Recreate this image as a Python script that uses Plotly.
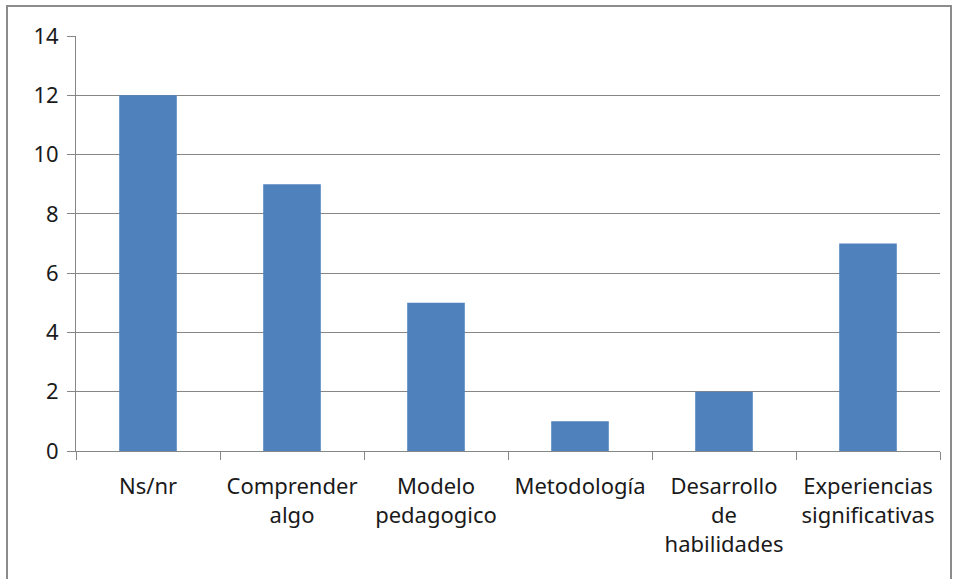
import plotly.graph_objects as go

categories = ["Ns/nr", "Comprender<br>algo", "Modelo<br>pedagogico", "Metodología",
              "Desarrollo<br>de<br>habilidades", "Experiencias<br>significativas"]
values = [12, 9, 5, 1, 2, 7]
y_ticks = [0, 2, 4, 6, 8, 10, 12, 14]

W, H = 955, 579
L, R, T, B = 76, 15, 36, 128
pw, ph = W - L - R, H - T - B

def px2paper_x(px):
    return (px - L) / pw

def px2paper_y(py):
    return (H - B - py) / ph

fig = go.Figure(go.Bar(x=categories, y=values, marker_color="#4F81BD",
                       marker_line_width=0, width=0.4))

fig.update_layout(
    width=W, height=H,
    margin=dict(l=L, r=R, t=T, b=B),
    plot_bgcolor="white", paper_bgcolor="white",
    font=dict(family="Noto Sans", size=20, color="#1a1a1a"),
    showlegend=False,
    bargap=0.6,
    shapes=[dict(type="rect", xref="paper", yref="paper",
                 x0=px2paper_x(7), x1=px2paper_x(951),
                 y0=px2paper_y(590), y1=px2paper_y(6),
                 line=dict(color="#8C8C8C", width=2), fillcolor="rgba(0,0,0,0)",
                 layer="below")],
)
fig.update_xaxes(showline=True, linecolor="#868686", linewidth=1,
                 ticks="outside", tickson="boundaries", ticklen=8, tickcolor="#868686",
                 showgrid=False, tickfont=dict(size=22), ticklabelstandoff=16)
fig.update_yaxes(range=[0, 14], tickvals=y_ticks, showline=True, linecolor="#868686",
                 linewidth=1, ticks="outside", ticklen=8, tickcolor="#868686",
                 showgrid=True, gridcolor="#868686", gridwidth=1, zeroline=False,
                 tickfont=dict(size=22), ticklabelstandoff=4)

fig.write_html("out.html", config={"displayModeBar": False},
               post_script="document.body.style.margin='0';document.body.style.padding='0';")
